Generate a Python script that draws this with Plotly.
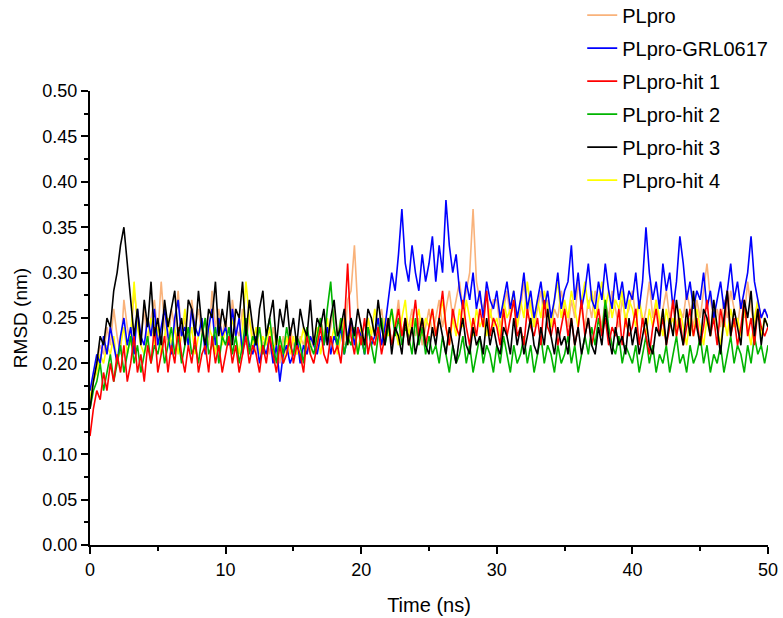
import plotly.graph_objects as go

plpro = [0.16,0.18,0.20,0.22,0.21,0.24,0.22,0.26,0.23,0.21,0.27,0.24,0.22,0.28,0.25,0.23,0.26,0.22,0.25,0.27,
         0.23,0.29,0.24,0.22,0.26,0.24,0.28,0.23,0.25,0.22,0.27,0.24,0.26,0.23,0.25,0.22,0.28,0.24,0.26,0.23,
         0.25,0.22,0.27,0.24,0.23,0.26,0.22,0.25,0.23,0.21,0.24,0.22,0.23,0.21,0.24,0.22,0.20,0.23,0.21,0.24,
         0.22,0.21,0.23,0.22,0.24,0.21,0.23,0.22,0.25,0.23,0.22,0.24,0.26,0.23,0.25,0.22,0.27,0.28,0.33,0.26,
         0.24,0.22,0.25,0.23,0.22,0.24,0.26,0.23,0.25,0.22,0.24,0.27,0.23,0.25,0.24,0.26,0.23,0.25,0.22,0.24,
         0.26,0.23,0.25,0.27,0.24,0.26,0.28,0.25,0.27,0.29,0.26,0.28,0.30,0.37,0.29,0.27,0.26,0.28,0.25,0.27,
         0.27,0.24,0.26,0.28,0.25,0.27,0.24,0.26,0.29,0.25,0.27,0.24,0.26,0.28,0.25,0.27,0.24,0.26,0.25,0.28,
         0.26,0.24,0.27,0.25,0.29,0.26,0.24,0.27,0.25,0.28,0.26,0.24,0.27,0.25,0.28,0.26,0.24,0.27,0.25,0.26,
         0.28,0.25,0.27,0.24,0.26,0.29,0.25,0.27,0.24,0.26,0.28,0.25,0.27,0.24,0.26,0.25,0.28,0.26,0.24,0.27,
         0.25,0.28,0.31,0.27,0.25,0.26,0.24,0.27,0.25,0.28,0.26,0.24,0.27,0.25,0.29,0.26,0.24,0.27,0.25,0.26,
         0.25]
grl0617 = [0.17,0.19,0.21,0.20,0.23,0.21,0.24,0.22,0.20,0.23,0.25,0.22,0.24,0.21,0.26,0.23,0.22,0.25,0.23,0.26,
           0.22,0.24,0.26,0.23,0.21,0.25,0.27,0.23,0.24,0.22,0.26,0.24,0.23,0.25,0.21,0.24,0.26,0.22,0.25,0.23,
           0.24,0.22,0.26,0.23,0.25,0.21,0.24,0.22,0.21,0.23,0.20,0.22,0.21,0.23,0.20,0.22,0.18,0.21,0.22,0.20,
           0.21,0.23,0.20,0.22,0.21,0.23,0.22,0.21,0.23,0.22,0.24,0.21,0.23,0.22,0.24,0.21,0.23,0.25,0.22,0.24,
           0.23,0.21,0.24,0.22,0.23,0.25,0.22,0.24,0.27,0.30,0.28,0.32,0.37,0.31,0.29,0.33,0.30,0.28,0.32,0.29,
           0.31,0.34,0.29,0.33,0.30,0.38,0.33,0.30,0.32,0.28,0.26,0.29,0.27,0.30,0.26,0.28,0.25,0.29,0.27,0.26,
           0.28,0.25,0.27,0.29,0.26,0.28,0.25,0.27,0.30,0.26,0.28,0.25,0.27,0.29,0.26,0.28,0.25,0.27,0.30,0.26,
           0.28,0.29,0.33,0.27,0.30,0.26,0.28,0.31,0.27,0.26,0.29,0.27,0.31,0.28,0.26,0.30,0.27,0.29,0.26,0.28,
           0.27,0.30,0.26,0.29,0.35,0.30,0.27,0.29,0.26,0.31,0.28,0.30,0.26,0.29,0.34,0.31,0.27,0.29,0.26,0.28,
           0.27,0.30,0.26,0.28,0.25,0.27,0.29,0.26,0.28,0.31,0.27,0.29,0.26,0.28,0.30,0.34,0.29,0.27,0.25,0.26,
           0.25]
hit1 = [0.12,0.15,0.17,0.16,0.19,0.17,0.20,0.18,0.21,0.19,0.22,0.18,0.20,0.23,0.19,0.21,0.18,0.22,0.20,0.24,
        0.19,0.21,0.23,0.19,0.22,0.20,0.24,0.21,0.19,0.22,0.20,0.23,0.19,0.21,0.22,0.19,0.23,0.20,0.22,0.19,
        0.21,0.23,0.20,0.22,0.19,0.21,0.23,0.20,0.22,0.21,0.19,0.22,0.20,0.23,0.21,0.19,0.22,0.20,0.21,0.23,
        0.20,0.22,0.21,0.19,0.23,0.21,0.20,0.22,0.24,0.21,0.20,0.23,0.21,0.22,0.20,0.24,0.31,0.23,0.21,0.24,
        0.22,0.25,0.21,0.23,0.22,0.24,0.21,0.23,0.25,0.22,0.24,0.26,0.23,0.25,0.22,0.24,0.27,0.23,0.25,0.22,
        0.24,0.26,0.23,0.25,0.28,0.24,0.22,0.26,0.24,0.23,0.27,0.24,0.22,0.25,0.23,0.26,0.24,0.28,0.23,0.25,
        0.24,0.22,0.26,0.23,0.25,0.27,0.23,0.24,0.22,0.26,0.24,0.23,0.25,0.22,0.27,0.24,0.23,0.25,0.22,0.24,
        0.26,0.23,0.25,0.22,0.24,0.27,0.23,0.25,0.22,0.24,0.26,0.23,0.25,0.22,0.24,0.23,0.26,0.22,0.25,0.23,
        0.24,0.26,0.22,0.25,0.23,0.21,0.24,0.26,0.23,0.25,0.22,0.24,0.27,0.23,0.25,0.22,0.24,0.26,0.23,0.25,
        0.22,0.24,0.27,0.23,0.25,0.22,0.26,0.24,0.28,0.23,0.25,0.22,0.24,0.27,0.23,0.25,0.22,0.26,0.24,0.23,
        0.24]
hit2 = [0.15,0.17,0.18,0.20,0.17,0.19,0.21,0.18,0.20,0.22,0.19,0.21,0.23,0.20,0.22,0.19,0.21,0.23,0.20,0.22,
        0.21,0.23,0.20,0.22,0.24,0.21,0.23,0.20,0.22,0.24,0.21,0.22,0.20,0.23,0.25,0.21,0.22,0.24,0.20,0.23,
        0.22,0.24,0.21,0.23,0.20,0.22,0.25,0.21,0.23,0.22,0.24,0.21,0.23,0.25,0.22,0.20,0.23,0.21,0.24,0.22,
        0.21,0.23,0.22,0.20,0.24,0.22,0.21,0.23,0.25,0.22,0.26,0.29,0.24,0.22,0.25,0.21,0.23,0.22,0.24,0.21,
        0.23,0.21,0.24,0.22,0.20,0.23,0.25,0.22,0.24,0.26,0.23,0.25,0.22,0.24,0.23,0.21,0.25,0.22,0.24,0.21,
        0.23,0.21,0.22,0.20,0.23,0.21,0.19,0.22,0.20,0.21,0.23,0.20,0.22,0.19,0.21,0.23,0.20,0.22,0.21,0.19,
        0.22,0.20,0.23,0.21,0.19,0.22,0.20,0.21,0.23,0.20,0.22,0.19,0.21,0.23,0.20,0.22,0.21,0.19,0.22,0.20,
        0.21,0.23,0.20,0.22,0.19,0.21,0.23,0.21,0.24,0.22,0.25,0.23,0.27,0.24,0.22,0.21,0.23,0.20,0.22,0.21,
        0.20,0.22,0.19,0.21,0.23,0.20,0.22,0.19,0.21,0.20,0.22,0.19,0.21,0.23,0.20,0.21,0.19,0.22,0.20,0.21,
        0.23,0.20,0.22,0.19,0.21,0.20,0.22,0.19,0.21,0.23,0.20,0.22,0.21,0.19,0.22,0.20,0.23,0.21,0.22,0.20,
        0.22]
hit3 = [0.15,0.18,0.20,0.23,0.22,0.25,0.24,0.28,0.30,0.33,0.35,0.31,0.27,0.23,0.26,0.22,0.27,0.24,0.29,0.23,
        0.25,0.22,0.27,0.24,0.26,0.28,0.23,0.25,0.22,0.27,0.26,0.23,0.28,0.24,0.22,0.26,0.25,0.29,0.23,0.26,
        0.24,0.28,0.22,0.26,0.25,0.29,0.23,0.27,0.24,0.22,0.26,0.28,0.23,0.25,0.27,0.22,0.26,0.24,0.27,0.23,
        0.25,0.22,0.26,0.24,0.23,0.27,0.22,0.25,0.24,0.26,0.22,0.25,0.27,0.23,0.24,0.26,0.22,0.25,0.23,0.26,
        0.24,0.22,0.26,0.25,0.23,0.27,0.24,0.22,0.25,0.21,0.24,0.23,0.21,0.25,0.22,0.24,0.21,0.23,0.25,0.22,
        0.21,0.24,0.22,0.25,0.23,0.21,0.24,0.22,0.20,0.23,0.25,0.22,0.21,0.24,0.22,0.23,0.21,0.25,0.22,0.24,
        0.22,0.21,0.24,0.23,0.21,0.25,0.22,0.24,0.21,0.23,0.25,0.22,0.21,0.24,0.22,0.26,0.23,0.21,0.24,0.22,
        0.23,0.21,0.25,0.22,0.24,0.21,0.23,0.25,0.22,0.21,0.24,0.22,0.26,0.23,0.21,0.24,0.22,0.23,0.21,0.25,
        0.22,0.24,0.21,0.23,0.25,0.22,0.21,0.24,0.23,0.26,0.22,0.25,0.23,0.27,0.24,0.22,0.26,0.23,0.28,0.24,
        0.22,0.26,0.25,0.23,0.27,0.24,0.21,0.25,0.28,0.23,0.26,0.24,0.22,0.27,0.25,0.28,0.23,0.26,0.22,0.25,
        0.24]
hit4 = [0.16,0.18,0.19,0.21,0.20,0.22,0.21,0.23,0.20,0.22,0.24,0.21,0.23,0.29,0.24,0.22,0.21,0.23,0.25,0.22,
        0.24,0.21,0.23,0.25,0.22,0.24,0.21,0.23,0.26,0.22,0.24,0.21,0.23,0.25,0.22,0.24,0.23,0.21,0.25,0.22,
        0.24,0.22,0.25,0.23,0.21,0.24,0.29,0.25,0.22,0.24,0.21,0.23,0.22,0.24,0.21,0.23,0.22,0.20,0.23,0.21,
        0.23,0.21,0.22,0.24,0.21,0.23,0.22,0.24,0.21,0.23,0.25,0.22,0.24,0.21,0.23,0.25,0.22,0.24,0.23,0.21,
        0.24,0.22,0.25,0.23,0.26,0.24,0.22,0.25,0.23,0.26,0.24,0.22,0.25,0.27,0.23,0.25,0.24,0.26,0.23,0.25,
        0.24,0.26,0.23,0.25,0.27,0.24,0.22,0.25,0.23,0.26,0.24,0.27,0.25,0.23,0.26,0.24,0.25,0.23,0.26,0.24,
        0.25,0.23,0.27,0.25,0.26,0.28,0.24,0.27,0.25,0.29,0.26,0.24,0.27,0.25,0.28,0.26,0.24,0.27,0.29,0.25,
        0.27,0.25,0.28,0.26,0.24,0.27,0.29,0.26,0.28,0.25,0.27,0.29,0.26,0.28,0.25,0.27,0.26,0.28,0.24,0.27,
        0.26,0.24,0.27,0.25,0.23,0.26,0.24,0.27,0.25,0.23,0.26,0.24,0.25,0.23,0.26,0.24,0.22,0.25,0.23,0.26,
        0.24,0.22,0.25,0.23,0.26,0.24,0.22,0.25,0.23,0.26,0.24,0.25,0.23,0.26,0.24,0.22,0.25,0.27,0.23,0.25,
        0.24]

series_names = ["PLpro", "PLpro-GRL0617", "PLpro-hit 1", "PLpro-hit 2", "PLpro-hit 3", "PLpro-hit 4"]
series_values = [plpro, grl0617, hit1, hit2, hit3, hit4]
colors = ["#F9B27A", "#0000FF", "#FF0000", "#00B400", "#000000", "#FFFF00"]
draw_order = [0, 5, 1, 3, 2, 4]
time_step = 0.25

fig = go.Figure()
for idx in draw_order:
    vals = series_values[idx]
    t = [i * time_step for i in range(len(vals))]
    fig.add_trace(go.Scatter(
        x=t, y=vals, mode="lines", name=series_names[idx],
        line=dict(color=colors[idx], width=1.6),
        legendrank=idx + 1, legendgroup=series_names[idx],
    ))

font_family = "Liberation Sans, Arial, sans-serif"
fig.update_layout(
    width=783, height=618,
    margin=dict(l=90, r=15, t=91, b=73, autoexpand=False),
    paper_bgcolor="white", plot_bgcolor="white",
    font=dict(family=font_family, size=18, color="black"),
    legend=dict(x=0.726, y=1.21, xanchor="left", yanchor="top",
                bgcolor="rgba(0,0,0,0)", tracegroupgap=4,
                traceorder="grouped", font=dict(size=20)),
    showlegend=True,
)
fig.update_xaxes(
    range=[0, 50], tickvals=[0, 10, 20, 30, 40, 50], automargin=False,
    showline=True, linecolor="black", linewidth=2,
    ticks="outside", ticklen=7, tickwidth=2, tickcolor="black",
    minor=dict(tickvals=[5, 15, 25, 35, 45], ticks="outside", ticklen=4, tickwidth=2, tickcolor="black"),
    showgrid=False, zeroline=False,
    title=dict(text="Time (ns)", font=dict(size=20), standoff=19),
)
fig.update_yaxes(
    range=[0, 0.5], tickvals=[i * 0.05 for i in range(11)], tickformat=".2f", automargin=False,
    showline=True, linecolor="black", linewidth=2,
    ticks="outside", ticklen=7, tickwidth=2, tickcolor="black",
    minor=dict(tickvals=[0.025 + i * 0.05 for i in range(10)], ticks="outside", ticklen=4, tickwidth=2, tickcolor="black"),
    showgrid=False, zeroline=False,
    title=dict(text="RMSD (nm)", font=dict(size=19), standoff=10),
)

fig.write_html("out.html", config={"displayModeBar": False},
               post_script="document.body.style.margin='0';document.body.style.overflow='hidden';")
